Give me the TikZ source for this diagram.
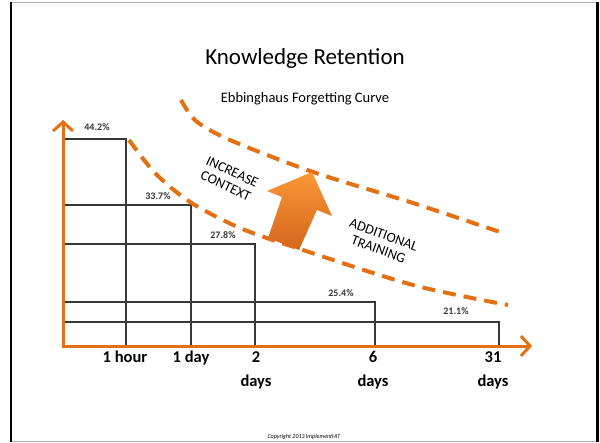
\documentclass[tikz,border=0pt]{standalone}
\usepackage{fontspec}
\setmainfont{Carlito}
\usetikzlibrary{arrows.meta}
\definecolor{axisorange}{RGB}{228,112,20}
\definecolor{arrowlight}{RGB}{250,152,55}
\definecolor{arrowdark}{RGB}{212,102,28}
\definecolor{bargray}{RGB}{55,55,55}

\begin{document}
\begin{tikzpicture}
[
    x=1pt, y=-1pt,
    axis/.style={draw=axisorange, line width=3pt, line join=miter,
      {Straight Barb[length=9pt,width=20pt]}-{Straight Barb[length=9pt,width=20pt]}},
    bar/.style={draw=bargray, line width=1.1pt},
    curve/.style={draw=axisorange, line width=4pt, dash pattern=on 13pt off 8pt},
    pct/.style={font=\bfseries\fontsize{10}{11}\selectfont, text=bargray, inner sep=0},
    tick/.style={font=\bfseries\fontsize{16.5}{24}\selectfont, align=center, anchor=north, inner sep=0},
    note/.style={font=\fontsize{14}{15.5}\selectfont, align=center, inner sep=0}
  ]
  \useasboundingbox (0,0) rectangle (600,442);

  % slide frame
  \draw[gray!60, line width=0.8pt] (11,2.5) rectangle (597,441);
  \draw[black, line width=2.2pt] (11,2) -- (11,442) (597.5,2) -- (597.5,442);

  \node (title) at (305,58) {\fontsize{23}{27}\selectfont Knowledge Retention};
  \node (subtitle) at (305,99) {\fontsize{14.5}{16}\selectfont Ebbinghaus Forgetting Curve};

  % axes
  \coordinate (origin) at (63,346);
  \coordinate (ytip) at (63,120);
  \coordinate (xtip) at (532,346);

  % retention bars
  \foreach \name/\x/\y/\lx/\ly/\val in {hour/126/139/97/127/44.2, day/191/205/158/196/33.7,
      two/255/244/223/235/27.8, six/375/302/341/293/25.4, month/499/322/456/311/21.1}
  {
    \draw[bar] (64,\y) -| (\x,346);
    \node[pct] (p\name) at (\lx,\ly) {\val\%};
  }
  \draw[axis] (ytip) -- (origin) -- (xtip);

  \node[tick] (thour) at (125,351) {1 hour};
  \node[tick] (tday) at (191,351) {1 day};
  \node[tick] (ttwo) at (256,351) {2\\days};
  \node[tick] (tsix) at (373,351) {6\\days};
  \node[tick] (tmonth) at (493,351) {31\\days};

  % forgetting curves
  \draw[curve] plot[smooth] coordinates {(181,100) (196,121) (230,140) (313,172) (413,203) (500,232)};
  \draw[curve] plot[smooth] coordinates {(129,140) (155,173) (190,202) (240,228) (300,249) (413,285) (508,305)};

  % block arrow
  \path[top color=arrowlight, bottom color=arrowdark]
    (312,172) -- (332,216) -- (317,210) -- (299,250) -- (268,238) -- (282,197) -- (267,191) -- cycle;

  \node[note, rotate=-25] (context) at (229,179) {INCREASE\\CONTEXT};
  \node[note, rotate=-20] (training) at (381,242) {ADDITIONAL\\TRAINING};

  \node[font=\itshape\fontsize{6}{7}\selectfont] (copy) at (304,437) {Copyright 2013 ImplementHIT};
\end{tikzpicture}
\end{document}
